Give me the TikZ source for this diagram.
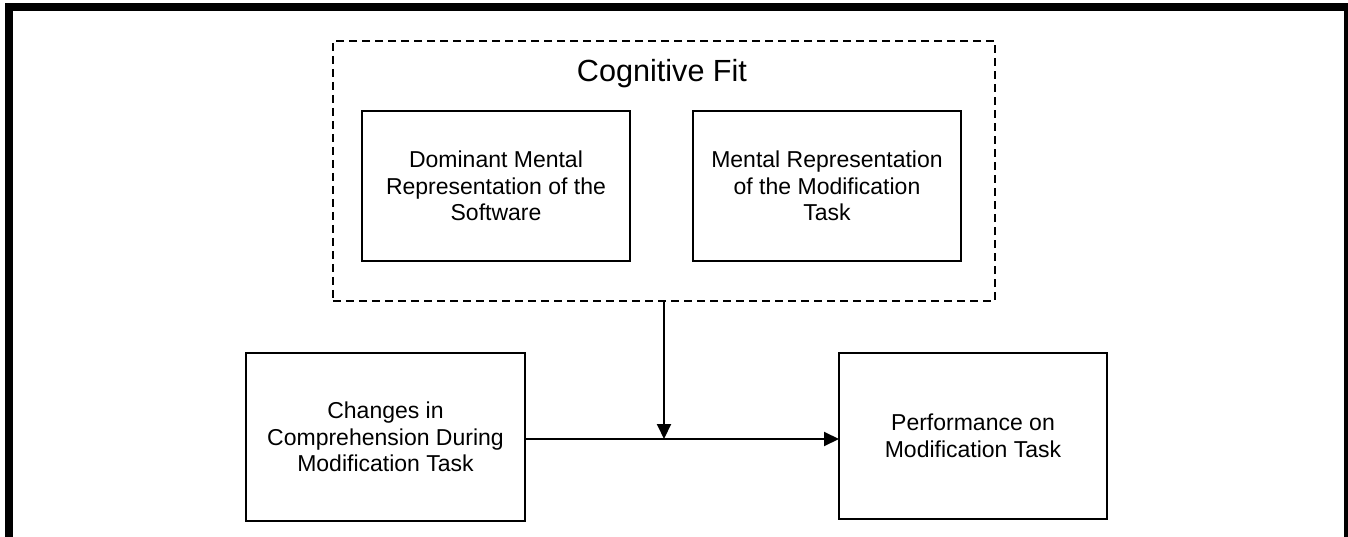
\documentclass[tikz,border=0pt]{standalone}
\usepackage{fontspec}
\setmainfont{Liberation Sans}
\usetikzlibrary{arrows.meta}
\begin{document}
\begin{tikzpicture}[x=0.5bp,y=-0.5bp,
  box/.style={draw, line width=1bp, inner sep=0pt, outer sep=0pt, align=center,
              font=\fontsize{11.5bp}{13.35bp}\selectfont},
  group/.style={draw, line width=1bp, dash pattern=on 4bp off 2.5bp, inner sep=0pt, outer sep=0pt},
  link/.style={line width=1bp, -{Triangle[length=7.5bp,width=7bp]}}]
\useasboundingbox (0,0) rectangle (1348,537);
\clip (0,0) rectangle (1348,537);
\fill[white] (0,0) rectangle (1348,537);
% heavy frame, open at the bottom
\draw[line width=4bp, line join=miter] (9,560) -- (9,7) -- (1348,7) -- (1348,560);

% cognitive fit group
\node[group, minimum width=331bp, minimum height=130bp] (cf) at (664,171) {};
\node[font=\fontsize{15.3bp}{18bp}\selectfont, anchor=base] (cftitle) at (662,82) {Cognitive Fit};
\node[box, minimum width=134bp, minimum height=75bp] (dom) at (496,186)
  {Dominant Mental\\Representation of the\\Software};
\node[box, minimum width=134bp, minimum height=75bp] (task) at (827,186)
  {Mental Representation\\of the Modification\\Task};

% comprehension and performance
\node[box, minimum width=139.5bp, minimum height=84bp] (chg) at (385.5,437)
  {Changes in\\Comprehension During\\Modification Task};
\node[box, minimum width=134bp, minimum height=83bp] (perf) at (973,436)
  {Performance on\\Modification Task};

\coordinate (mid) at (664,439);
\draw[link] (chg.east |- mid) -- (perf.west |- mid);
\draw[link] (cf.south) -- (mid);
\end{tikzpicture}
\end{document}
